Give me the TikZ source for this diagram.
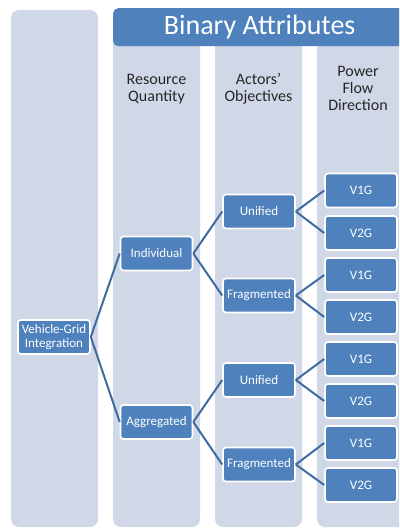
\documentclass[tikz,border=0pt]{standalone}
\usepackage{fontspec}
\setmainfont{Carlito}
\definecolor{colbg}{HTML}{D0D8E8}
\definecolor{nodeblue}{HTML}{4F81BD}
\definecolor{linkblue}{HTML}{3F6B9E}
\begin{document}
\begin{tikzpicture}[x=1pt,y=-1pt,
  column/.style={fill=colbg,rounded corners=8pt},
  tnode/.style={rectangle,rounded corners=3pt,fill=nodeblue,draw=white,line width=1.6pt,
    minimum width=72pt,minimum height=34pt,inner sep=1pt,text=white,align=center,
    font=\fontsize{13}{14}\selectfont},
  heading/.style={align=center,font=\fontsize{16}{17}\selectfont,text=black!85},
  link/.style={draw=linkblue,line width=2pt}]
\useasboundingbox (0,0) rectangle (399,529);
\clip (0,0) rectangle (399,529);
% columns
\fill[column] (11,10) rectangle (98,527);
\fill[column] (113,10) rectangle (200,527);
\fill[column] (215,10) rectangle (302,527);
\fill[column] (317,10) rectangle (410,527);
% header
\node[fill=nodeblue,rounded corners=5pt,minimum width=295pt,minimum height=38pt,anchor=north west,inner sep=0pt,
  text=white,font=\fontsize{28}{30}\selectfont] (hdr) at (113,8) {\hspace*{-2pt}Binary Attributes\hspace*{0pt}};
% headings
\node[heading] (h1) at (156.5,89) {Resource\\Quantity};
\node[heading] (h2) at (258.5,89) {Actors’\\Objectives};
\node[heading] (h3) at (358,88) {Power\\Flow\\Direction};
% nodes
\node[tnode] (vgi) at (54,337) {Vehicle-Grid\\Integration};
\node[tnode] (ind) at (156.5,253.5) {Individual};
\node[tnode] (agg) at (156.5,422) {Aggregated};
\node[tnode] (u1) at (259,211.5) {Unified};
\node[tnode] (f1) at (259,295.5) {Fragmented};
\node[tnode] (u2) at (259,380) {Unified};
\node[tnode] (f2) at (259,464.5) {Fragmented};
\node[tnode] (a1) at (361,190.5) {V1G};
\node[tnode] (a2) at (361,233) {V2G};
\node[tnode] (a3) at (361,275) {V1G};
\node[tnode] (a4) at (361,317) {V2G};
\node[tnode] (a5) at (361,359) {V1G};
\node[tnode] (a6) at (361,401) {V2G};
\node[tnode] (a7) at (361,443) {V1G};
\node[tnode] (a8) at (361,485) {V2G};
% links
\foreach \p/\c in {vgi/ind,vgi/agg,ind/u1,ind/f1,agg/u2,agg/f2,u1/a1,u1/a2,f1/a3,f1/a4,u2/a5,u2/a6,f2/a7,f2/a8}
  \draw[link] (\p.east) -- (\c.west);
\end{tikzpicture}
\end{document}
